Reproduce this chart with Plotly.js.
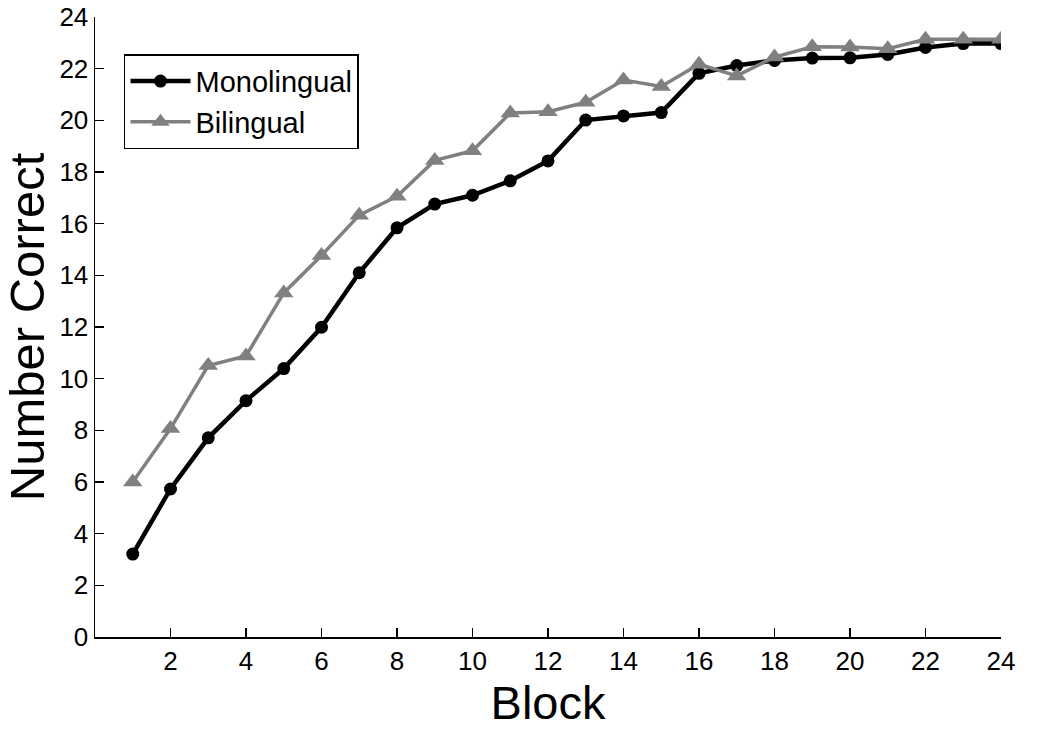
<!DOCTYPE html>
<html>
<head>
<meta charset="utf-8">
<script src="https://cdn.plot.ly/plotly-3.0.1.min.js"></script>
<style>html,body{margin:0;padding:0;background:#fff;}#chart{width:1050px;height:729px;}</style>
</head>
<body>
<div id="chart"></div>
<script>
const blocks = [1,2,3,4,5,6,7,8,9,10,11,12,13,14,15,16,17,18,19,20,21,22,23,24];
const monolingual = [3.21,5.73,7.71,9.15,10.39,11.99,14.1,15.84,16.76,17.1,17.66,18.43,20.01,20.17,20.3,21.82,22.12,22.32,22.41,22.42,22.55,22.82,22.97,22.97];
const bilingual = [6.0,8.07,10.51,10.88,13.32,14.77,16.33,17.06,18.45,18.82,20.28,20.33,20.7,21.56,21.31,22.17,21.72,22.45,22.85,22.84,22.77,23.14,23.14,23.14];
const xTicks = [2,4,6,8,10,12,14,16,18,20,22,24];
const yTicks = [0,2,4,6,8,10,12,14,16,18,20,22,24];

const traces = [
  {x: blocks, y: monolingual, name: 'Monolingual', type: 'scatter', mode: 'lines+markers',
   line: {color: '#000000', width: 4.5}, marker: {symbol: 'circle', size: 13, color: '#000000'}},
  {x: blocks, y: bilingual, name: 'Bilingual', type: 'scatter', mode: 'lines+markers',
   line: {color: '#808080', width: 3.5}, marker: {symbol: 'triangle-up', size: 17, color: '#808080'}}
];

const layout = {
  width: 1050, height: 729,
  margin: {l: 95, r: 49, t: 17, b: 92},
  paper_bgcolor: '#ffffff', plot_bgcolor: '#ffffff',
  font: {family: 'Liberation Sans, Arial, sans-serif', color: '#000'},
  showlegend: true,
  legend: {x: 0.032, y: 0.94, xanchor: 'left', yanchor: 'top', bgcolor: '#ffffff',
           bordercolor: '#000000', borderwidth: 1.5, font: {size: 29, color: '#000'},
           tracegroupgap: 0, itemwidth: 60},
  xaxis: {range: [0, 24], tickvals: xTicks, ticktext: xTicks.map(String), ticks: 'inside', ticklen: 9,
          tickwidth: 1.5, tickcolor: '#000', showline: true, linecolor: '#000', linewidth: 1.5,
          showgrid: false, zeroline: false, tickfont: {size: 26}, ticklabeloverflow: 'allow',
          title: {text: 'Block', font: {size: 47}, standoff: 9}},
  yaxis: {range: [0, 24], tickvals: yTicks, ticktext: yTicks.map(String), ticks: 'inside', ticklen: 9,
          tickwidth: 1.5, tickcolor: '#000', showline: true, linecolor: '#000', linewidth: 1.5,
          showgrid: false, zeroline: false, tickfont: {size: 26}, ticklabeloverflow: 'allow',
          title: {text: 'Number Correct', font: {size: 49}, standoff: 7}}
};

Plotly.newPlot('chart', traces, layout, {displayModeBar: false, staticPlot: true});
</script>
</body>
</html>
